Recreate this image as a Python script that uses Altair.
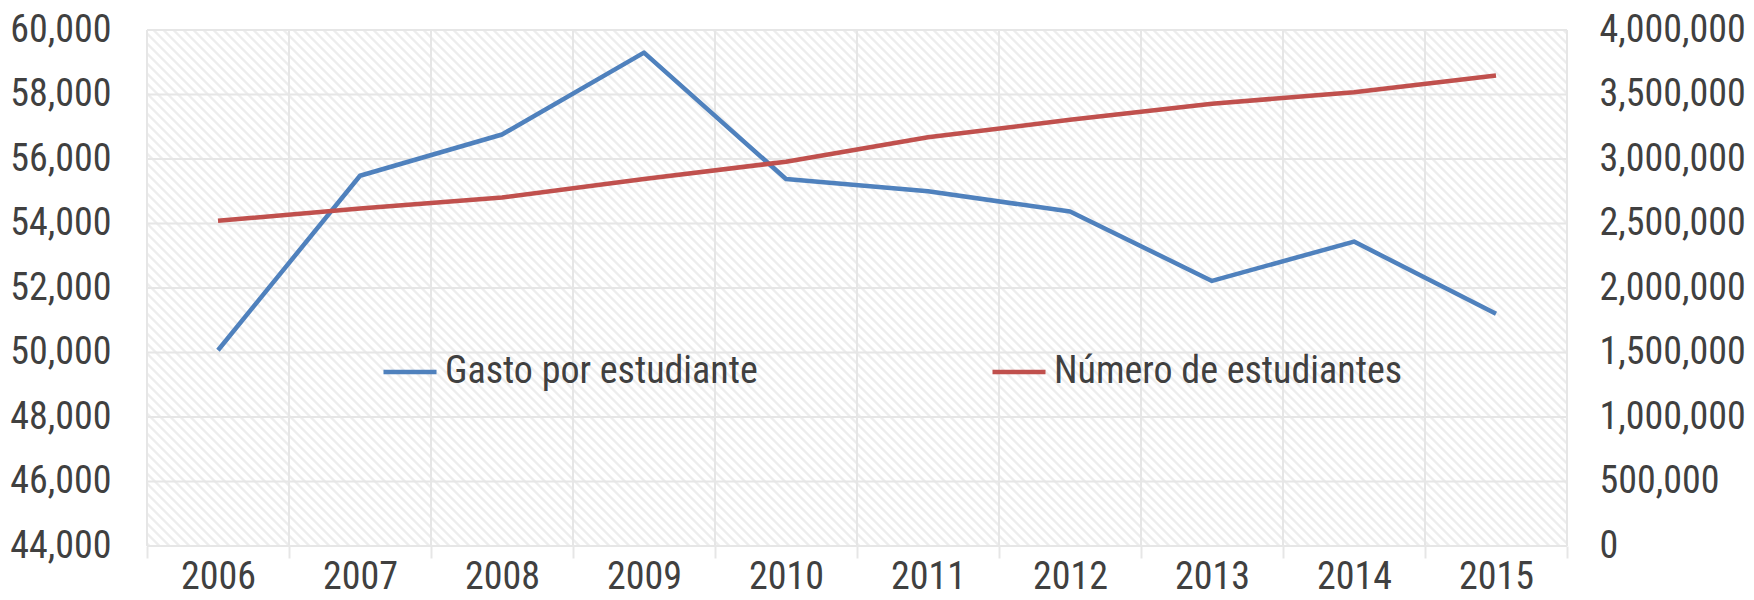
import altair as alt
import pandas as pd

# ---- data ----
years = ["2006", "2007", "2008", "2009", "2010", "2011", "2012", "2013", "2014", "2015"]
gasto = [50070, 55480, 56760, 59300, 55380, 55000, 54370, 52220, 53440, 51200]
numero = [2521000, 2616000, 2702000, 2845000, 2979000, 3168000, 3304000, 3428000, 3518000, 3647000]
series_names = ["Gasto por estudiante", "Número de estudiantes"]
left_ticks = list(range(44000, 60001, 2000))
right_ticks = list(range(0, 4000001, 500000))

df = pd.DataFrame({"year": years, "gasto": gasto, "numero": numero})
df_h = pd.DataFrame({"v": left_ticks})

# ---- style ----
W, H = 1420, 516
FONT = "Liberation Sans Narrow, Arial Narrow, Roboto Condensed, DejaVu Sans Condensed, sans-serif"
FS = 38
TXT = "#404040"
GRID = "#e6e6e6"
BLUE = "#4F81BD"
RED = "#C0504D"
LEFT_DOMAIN = [44000, 60000]

# diagonal hatch via a linear gradient (objectBoundingBox units)
k = (W + H) / (W * W + H * H)
U = W + H
pitch = 10.0
stops = []
u = 0.0
while u + 5 < U:
    for du, c in ((0, "#ffffff"), (1.5, "#ededed"), (3.5, "#ededed"), (5, "#ffffff")):
        stops.append(alt.GradientStop(color=c, offset=min(1.0, (u + du) / U)))
    u += pitch
hatch = alt.LinearGradient(gradient="linear", stops=stops,
                           x1=0, y1=1, x2=k * W, y2=1 - k * H)

bg = alt.Chart(df).mark_rect(fill=hatch, strokeWidth=0).encode(
    x=alt.value(0), x2=alt.value(W), y=alt.value(0), y2=alt.value(H)
)

band_scale = alt.Scale(type="band", paddingInner=0, paddingOuter=0)

x_axis = alt.Axis(
    title=None, labelAngle=0, tickBand="extent", grid=False, ticks=True,
    tickColor=GRID, tickWidth=2, tickSize=12,
    domain=False, labelPadding=0, labelFont=FONT, labelFontSize=FS,
    labelColor=TXT,
)

# vertical grid lines at the band edges
vgrid0 = alt.Chart(df).mark_rule(color=GRID, strokeWidth=2).encode(
    x=alt.X("year:O", bandPosition=0, scale=band_scale, axis=None),
)
vgrid1 = alt.Chart(df).mark_rule(color=GRID, strokeWidth=2).encode(
    x=alt.X("year:O", bandPosition=1, scale=band_scale, axis=None),
)
# horizontal grid lines at the left-axis ticks
hgrid = alt.Chart(df_h).mark_rule(color=GRID, strokeWidth=2).encode(
    y=alt.Y("v:Q", scale=alt.Scale(domain=LEFT_DOMAIN, nice=False, zero=False), axis=None),
)

color = alt.Color(
    "serie:N",
    scale=alt.Scale(domain=series_names, range=[BLUE, RED]),
    legend=alt.Legend(
        title=None, orient="none", legendX=234, legendY=313, direction="horizontal",
        symbolType="stroke", symbolSize=2809, symbolStrokeWidth=4.5,
        labelFont=FONT, labelFontSize=FS, labelColor=TXT, labelOffset=6,
        columnPadding=225, labelLimit=0, padding=0,
    ),
)

line1 = alt.Chart(df).transform_calculate(serie="'Gasto por estudiante'").mark_line(
    strokeWidth=4.5, strokeJoin="round"
).encode(
    x=alt.X("year:O", bandPosition=0.5, scale=band_scale, axis=x_axis),
    y=alt.Y(
        "gasto:Q",
        scale=alt.Scale(domain=LEFT_DOMAIN, nice=False, zero=False),
        axis=alt.Axis(
            values=left_ticks, format=",.0f", title=None, orient="left", grid=False,
            ticks=False, domain=False, labelPadding=36,
            labelFont=FONT, labelFontSize=FS, labelColor=TXT,
        ),
    ),
    color=color,
)

line2 = alt.Chart(df).transform_calculate(serie="'Número de estudiantes'").mark_line(
    strokeWidth=4.5, strokeJoin="round"
).encode(
    x=alt.X("year:O", bandPosition=0.5, scale=band_scale, axis=None),
    y=alt.Y(
        "numero:Q",
        scale=alt.Scale(domain=[0, 4000000], nice=False),
        axis=alt.Axis(
            values=right_ticks, format=",.0f", title=None, orient="right", grid=False,
            ticks=False, domain=False, labelPadding=32,
            labelFont=FONT, labelFontSize=FS, labelColor=TXT,
        ),
    ),
    color=color,
)

chart = (
    alt.layer(bg, vgrid0, vgrid1, hgrid, line1, line2)
    .resolve_scale(y="independent")
    .resolve_axis(x="independent")
    .properties(
        width=W, height=H,
        autosize=alt.AutoSizeParams(type="none"),
        padding={"left": 139, "top": 22, "right": 178, "bottom": 54},
        background="white",
    )
    .configure_view(stroke="transparent")
)

chart.save("out.html", embed_options={"renderer": "svg", "actions": False})
